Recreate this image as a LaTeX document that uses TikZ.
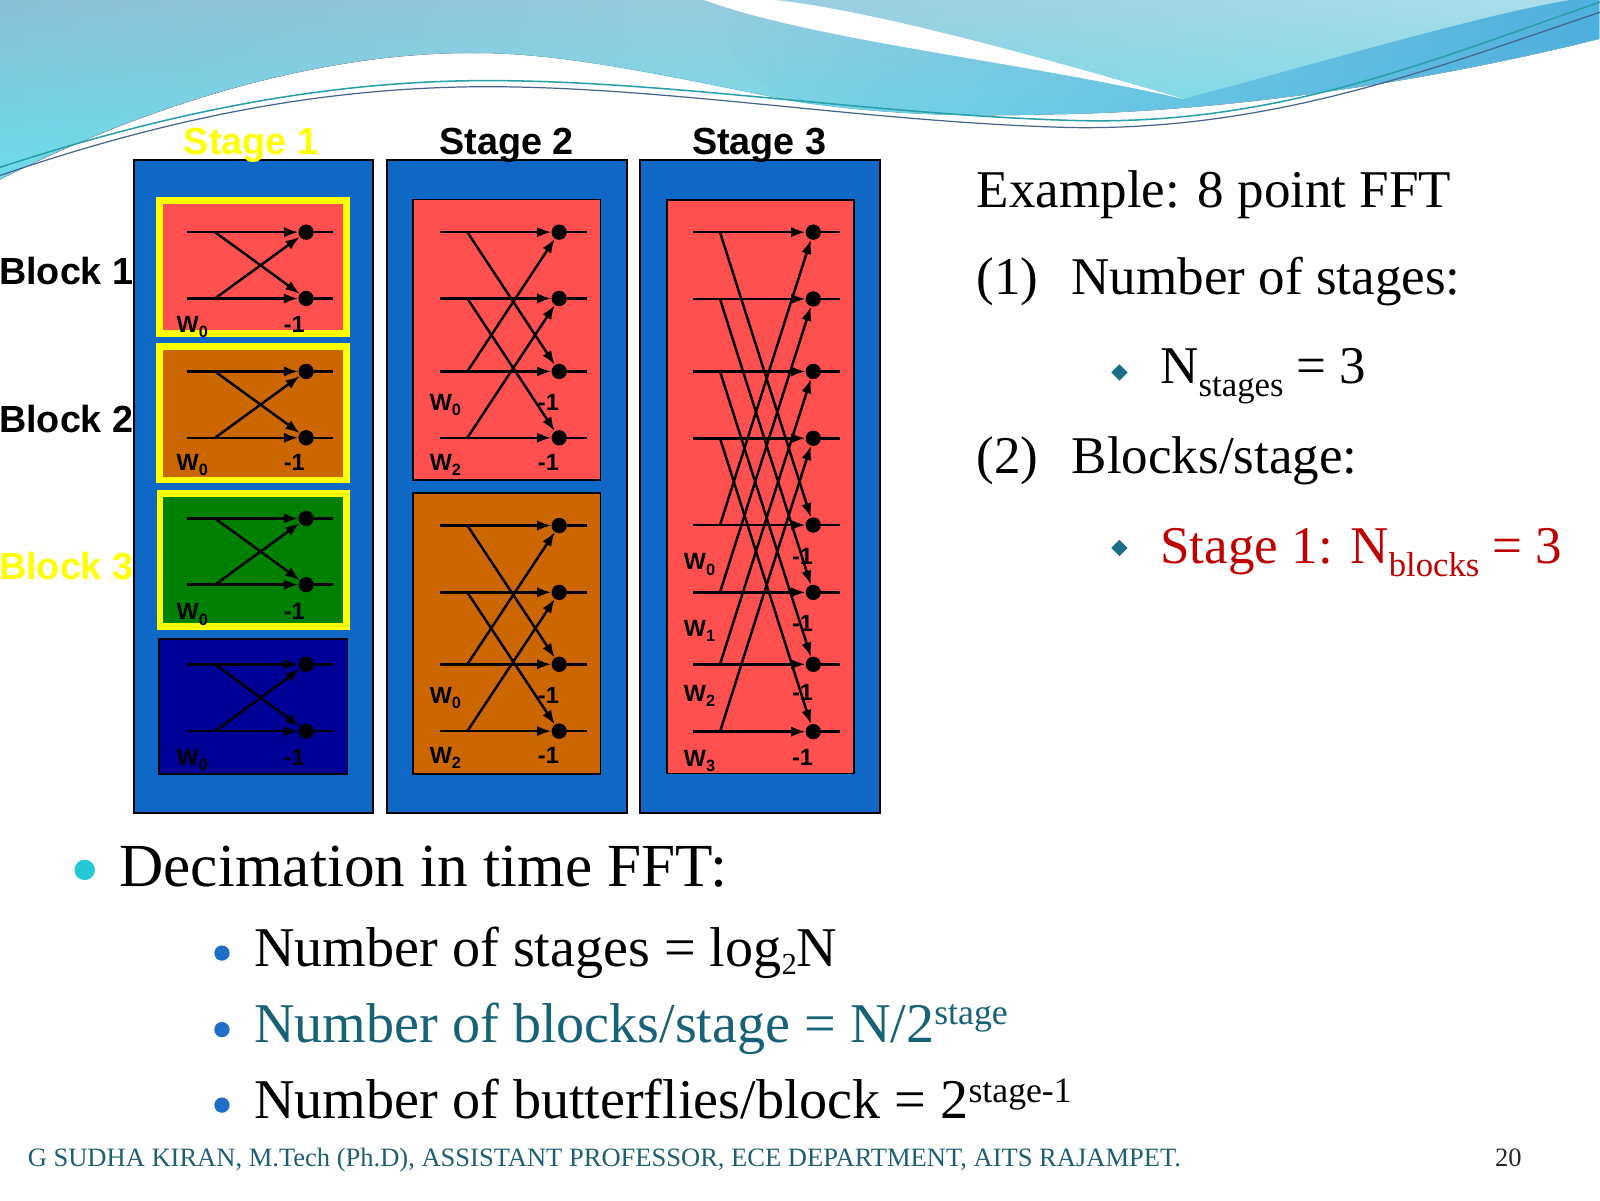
\documentclass[tikz,border=0pt]{standalone}
\usepackage{fontspec}
\setmainfont{Liberation Serif}
\newfontfamily\arialf{Liberation Sans}
\usetikzlibrary{arrows.meta,fadings}
\definecolor{stageblue}{RGB}{16,104,198}
\definecolor{bfred}{RGB}{255,80,80}
\definecolor{bforange}{RGB}{204,102,0}
\definecolor{bfgreen}{RGB}{0,128,0}
\definecolor{bfnavy}{RGB}{0,0,150}
\definecolor{bfyellow}{RGB}{255,255,0}
\definecolor{txred}{RGB}{192,0,0}
\definecolor{txteal}{RGB}{24,98,120}
\definecolor{footteal}{RGB}{30,95,115}
\definecolor{diamteal}{RGB}{28,110,136}
\definecolor{bulcyan}{RGB}{36,200,214}
\definecolor{bulblue}{RGB}{30,110,200}
\definecolor{skyA}{RGB}{137,190,214}
\definecolor{skyB}{RGB}{108,222,236}
\definecolor{skyPale}{RGB}{172,222,234}
\definecolor{bandB}{RGB}{78,176,222}
\definecolor{lineA}{RGB}{40,160,170}
\definecolor{lineB}{RGB}{70,100,140}
\newcommand\wsub[1]{W\raisebox{-5pt}{\fontsize{16}{16}\selectfont #1}}
\newcommand\bfrow[6]{%
  \coordinate (#1in) at (#3,#2);
  \coordinate (#1sp) at (#4,#2);
  \node[bfdot] (#1d) at (#5,#2) {};
  \coordinate (#1out) at (#6,#2);
  \draw[arr] (#1in) -- (#1d);
  \draw[wire] (#1d) -- (#1out);
}
\newcommand\sone[4]{%
  \bfrow{#1r0}{#2}{183}{210.7}{300}{326}
  \bfrow{#1r1}{#3}{183}{210.7}{300}{326}
  \draw[arr] (#1r0sp) -- (#1r1d);
  \draw[arr] (#1r1sp) -- (#1r0d);
  \node[wlabel] (#1w) at (173,#4) {\wsub{0}};
  \node[wlabel] (#1m) at (278,#4) {-1};
}
\newcommand\stwo[7]{%
  \bfrow{#1r0}{#2}{431}{458}{548}{575}
  \bfrow{#1r1}{#3}{431}{458}{548}{575}
  \bfrow{#1r2}{#4}{431}{458}{548}{575}
  \bfrow{#1r3}{#5}{431}{458}{548}{575}
  \draw[arr] (#1r0sp) -- (#1r2d);
  \draw[arr] (#1r1sp) -- (#1r3d);
  \draw[arr] (#1r2sp) -- (#1r0d);
  \draw[arr] (#1r3sp) -- (#1r1d);
  \node[wlabel] (#1wa) at (421,#6) {\wsub{0}};
  \node[wlabel] (#1ma) at (527,#6) {-1};
  \node[wlabel] (#1wb) at (421,#7) {\wsub{2}};
  \node[wlabel] (#1mb) at (527,#7) {-1};
}
\begin{document}
\begin{tikzpicture}[x=1pt,y=-1pt,
  bfdot/.style={circle,fill=black,inner sep=0pt,minimum size=15pt},
  wire/.style={line width=2.4pt,draw=black},
  arr/.style={line width=2.4pt,draw=black,-{Latex[length=14pt,width=10pt]}},
  titletext/.style={font=\arialf\bfseries\fontsize{37}{40}\selectfont,inner sep=0pt},
  wlabel/.style={font=\arialf\bfseries\fontsize{23}{25}\selectfont,anchor=base west,inner sep=0pt},
  rtext/.style={font=\fontsize{52}{56}\selectfont,anchor=base west,inner sep=0pt},
  btext/.style={font=\fontsize{55}{60}\selectfont,anchor=base west,inner sep=0pt},
]
\fill[white] (0,0) rectangle (1568,1176);
\useasboundingbox (0,0) rectangle (1568,1176);
% ---- top wave ----
\fill[left color=skyA, right color=skyPale] (0,0) -- (1568,0) -- (1568,38) .. controls (1400,80) and (1200,110) .. (1030,112) .. controls (960,114) and (880,114) .. (784,100) .. controls (680,80) and (560,52) .. (470,52) .. controls (320,50) and (150,100) .. (0,176) -- cycle;
\fill[skyB, path fading=north] (0,0) -- (1568,0) -- (1568,38) .. controls (1400,80) and (1200,110) .. (1030,112) .. controls (960,114) and (880,114) .. (784,100) .. controls (680,80) and (560,52) .. (470,52) .. controls (320,50) and (150,100) .. (0,176) -- cycle;
\fill[bandB, path fading=west] (690,0) .. controls (800,40) and (1000,60) .. (1160,97) .. controls (1300,60) and (1450,15) .. (1540,0) -- (1568,0) -- (1568,38) .. controls (1400,80) and (1200,110) .. (1030,112) .. controls (960,114) and (880,114) .. (784,100) .. controls (740,92) and (700,40) .. (690,0) -- cycle;
\fill[white] (690,0) .. controls (800,40) and (1000,60) .. (1160,97) .. controls (1000,50) and (850,10) .. (760,0) -- cycle;
\draw[line width=1.5pt, lineA] (0,164) .. controls (180,105) and (330,80) .. (470,79) .. controls (650,78) and (850,112) .. (1050,118) .. controls (1250,124) and (1400,60) .. (1568,2);
\draw[line width=1.2pt, lineB] (0,172) .. controls (180,110) and (330,86) .. (470,85) .. controls (650,84) and (850,120) .. (1050,125) .. controls (1250,128) and (1410,65) .. (1568,12);
% ---- stage boxes ----
\fill[stageblue,draw=black,line width=2pt] (131,157) rectangle (366,797);
\fill[stageblue,draw=black,line width=2pt] (379,157) rectangle (614,797);
\fill[stageblue,draw=black,line width=2pt] (627,157) rectangle (862,797);
% stage 1 blocks
\fill[bfyellow] (153,193) rectangle (343,330.5);
\fill[bfred] (160,199.5) rectangle (336.5,323.5);
\fill[bfyellow] (153,336.5) rectangle (343,473.5);
\fill[bforange] (160,343) rectangle (336.5,467);
\fill[bfyellow] (153.5,480) rectangle (343,617.5);
\fill[bfgreen] (160,487) rectangle (336.5,611);
\fill[bfnavy,draw=black,line width=1.8pt] (156,626.5) rectangle (340.5,758.5);
% stage 2 blocks
\fill[bfred,draw=black,line width=1.8pt] (404.5,195.5) rectangle (588.5,470.5);
\fill[bforange,draw=black,line width=1.8pt] (404.5,483.5) rectangle (588.5,758.5);
% stage 3 block
\fill[bfred,draw=black,line width=1.8pt] (653.5,196) rectangle (836.5,758);
% ---- butterflies ----
\sone{a}{227.5}{292.5}{325.5}
\sone{b}{364}{429}{461}
\sone{c}{508}{573}{607.5}
\sone{d}{651}{716.5}{750.5}
\stwo{e}{227.5}{292.5}{364}{429}{402}{461}
\stwo{f}{515}{580.5}{651}{716.5}{689}{748}
\bfrow{gr0}{227.5}{679.5}{705.6}{797}{823}
\bfrow{gr1}{293}{679.5}{705.6}{797}{823}
\bfrow{gr2}{364}{679.5}{705.6}{797}{823}
\bfrow{gr3}{429.5}{679.5}{705.6}{797}{823}
\bfrow{gr4}{514.5}{679.5}{705.6}{797}{823}
\bfrow{gr5}{580.5}{679.5}{705.6}{797}{823}
\bfrow{gr6}{651}{679.5}{705.6}{797}{823}
\bfrow{gr7}{717}{679.5}{705.6}{797}{823}
\draw[arr] (gr0sp) -- (gr4d);
\draw[arr] (gr1sp) -- (gr5d);
\draw[arr] (gr2sp) -- (gr6d);
\draw[arr] (gr3sp) -- (gr7d);
\draw[arr] (gr4sp) -- (gr0d);
\draw[arr] (gr5sp) -- (gr1d);
\draw[arr] (gr6sp) -- (gr2d);
\draw[arr] (gr7sp) -- (gr3d);
\node[wlabel] (gw0) at (670,558.5) {\wsub{0}};
\node[wlabel] (gw1) at (670,624) {\wsub{1}};
\node[wlabel] (gw2) at (670,687.5) {\wsub{2}};
\node[wlabel] (gw3) at (670,751) {\wsub{3}};
\node[wlabel] (gm0) at (776,553.5) {-1};
\node[wlabel] (gm1) at (776,619) {-1};
\node[wlabel] (gm2) at (776,686) {-1};
\node[wlabel] (gm3) at (776,750.5) {-1};
% ---- titles ----
\node[titletext,anchor=base,text=bfyellow] (st1) at (246,151) {Stage 1};
\node[titletext,anchor=base] (st2) at (496.5,151) {Stage 2};
\node[titletext,anchor=base] (st3) at (744,151) {Stage 3};
\node[titletext,anchor=base west] (bl1) at (-1,279) {Block 1};
\node[titletext,anchor=base west] (bl2) at (-1,423.5) {Block 2};
\node[titletext,anchor=base west,text=bfyellow] (bl3) at (-1,568) {Block 3};
% ---- right text ----
\node[rtext] (ex) at (957,203) {Example: 8 point FFT};
\node[rtext] (n1) at (957,289) {(1)};
\node[rtext] (t1) at (1050,289) {Number of stages:};
\fill[diamteal] (1097,357) -- (1105,365) -- (1097,373) -- (1089,365) -- cycle;
\node[rtext] (ns) at (1137,376) {N\raisebox{-13pt}{\fontsize{34}{34}\selectfont stages} = 3};
\node[rtext] (n2) at (957,464) {(2)};
\node[rtext] (t2) at (1050,464) {Blocks/stage:};
\fill[diamteal] (1097,529) -- (1105,537) -- (1097,545) -- (1089,537) -- cycle;
\node[rtext,text=txred] (nb) at (1137,552) {Stage 1: N\raisebox{-13pt}{\fontsize{34}{34}\selectfont blocks} = 3};
% ---- bottom text ----
\fill[bulcyan] (83,852.5) circle (10);
\node[font=\fontsize{60}{64}\selectfont,anchor=base west,inner sep=0pt] (dit) at (117,869) {Decimation in time FFT:};
\fill[bulblue] (217.5,934) circle (7.5);
\node[btext] (l1) at (249,947) {Number of stages = log\raisebox{-8pt}{\fontsize{30}{30}\selectfont 2}N};
\fill[bulblue] (217.5,1009) circle (7.5);
\node[btext,text=txteal] (l2) at (249,1022) {Number of blocks/stage = N/2\raisebox{18pt}{\fontsize{35}{35}\selectfont stage}};
\fill[bulblue] (217.5,1083) circle (7.5);
\node[btext] (l3) at (249,1096) {Number of butterflies/block = 2\raisebox{16pt}{\fontsize{35}{35}\selectfont stage-1}};
\node[font=\fontsize{26}{28}\selectfont,text=footteal,anchor=base west,inner sep=0pt] (foot) at (27,1143) {G SUDHA KIRAN, M.Tech (Ph.D), ASSISTANT PROFESSOR, ECE DEPARTMENT, AITS RAJAMPET.};
\node[font=\fontsize{26}{28}\selectfont,text=black!85,anchor=base west,inner sep=0pt] (pg) at (1465,1143) {20};
\end{tikzpicture}
\end{document}
